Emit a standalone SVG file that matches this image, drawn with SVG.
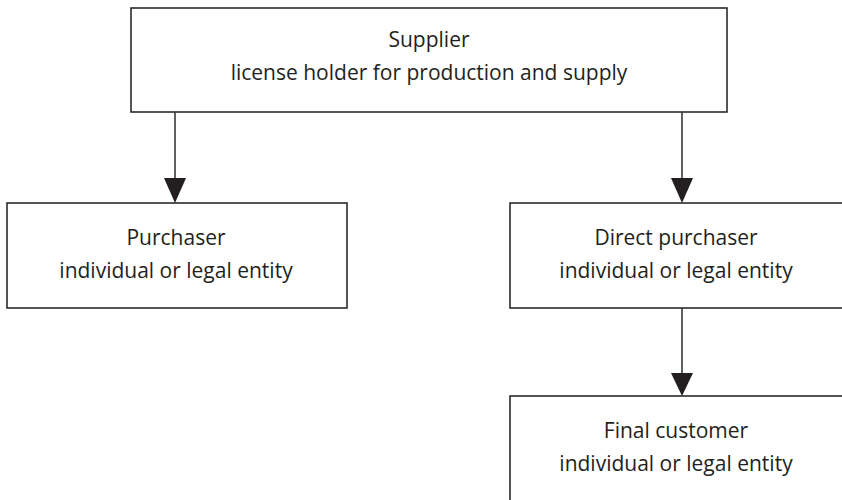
<svg xmlns="http://www.w3.org/2000/svg" width="842" height="500" viewBox="0 0 842 500">
<style>
.box{fill:#fff;stroke:#2b2b2b;stroke-width:1.6}
.lbl{font-family:"Open Sans","Noto Sans",sans-serif;font-size:21px;fill:#231f20;text-anchor:middle}
.conn{stroke:#3a3a3a;stroke-width:1.6;fill:none}
.head{fill:#231f20}
</style>
<rect width="842" height="500" fill="#fff"/>
<g id="supplier">
<rect class="box" x="131" y="8" width="596" height="104"/>
<text class="lbl" x="429" y="47">Supplier</text>
<text class="lbl" x="429" y="80">license holder for production and supply</text>
</g>
<g id="purchaser">
<rect class="box" x="7" y="203" width="340" height="105"/>
<text class="lbl" x="176" y="245">Purchaser</text>
<text class="lbl" x="176" y="278">individual or legal entity</text>
</g>
<g id="direct-purchaser">
<rect class="box" x="510" y="203" width="340" height="105"/>
<text class="lbl" x="676" y="245">Direct purchaser</text>
<text class="lbl" x="676" y="278">individual or legal entity</text>
</g>
<g id="final-customer">
<rect class="box" x="510" y="396" width="340" height="120"/>
<text class="lbl" x="676" y="438">Final customer</text>
<text class="lbl" x="676" y="471">individual or legal entity</text>
</g>
<g id="connectors">
<line class="conn" x1="175" y1="112" x2="175" y2="180"/>
<polygon class="head" points="164,178 186,178 175,203"/>
<line class="conn" x1="682" y1="112" x2="682" y2="180"/>
<polygon class="head" points="671,178 693,178 682,203"/>
<line class="conn" x1="682" y1="308" x2="682" y2="375"/>
<polygon class="head" points="671,373 693,373 682,396"/>
</g>
</svg>
